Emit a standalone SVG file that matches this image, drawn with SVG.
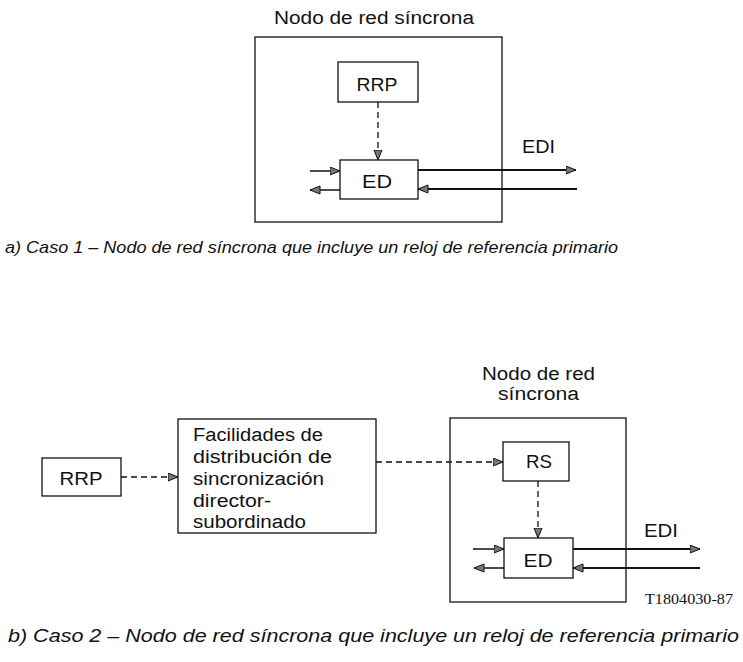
<svg xmlns="http://www.w3.org/2000/svg" width="743" height="662" viewBox="0 0 743 662">
<style>
.bg{fill:#fff}
.box{fill:none;stroke:#111;stroke-width:1.3}
.t{font-family:"Liberation Sans",Arial,sans-serif;font-size:18px;fill:#111}
.cap{font-family:"Liberation Sans",Arial,sans-serif;font-style:italic;fill:#111}
.ser{font-family:"Liberation Serif","Times New Roman",serif;font-size:15px;fill:#111}
.dash{fill:none;stroke:#111;stroke-width:1.3;stroke-dasharray:6 4}
.thin{fill:none;stroke:#111;stroke-width:1.5}
.thick{fill:none;stroke:#111;stroke-width:2.2}
</style>
<defs>
<marker id="ah" markerUnits="userSpaceOnUse" markerWidth="12" markerHeight="10" refX="10.5" refY="4.5" orient="auto">
<path d="M0.5,0.5 L10.5,4.5 L0.5,8.5 z" fill="#777" stroke="#111" stroke-width="1"/>
</marker>
</defs>
<rect class="bg" x="0" y="0" width="743" height="662"/>

<!-- Part a -->
<g id="a-node">
<rect class="box" x="255" y="37" width="247" height="185"/>
<text class="t" x="274" y="24" textLength="200" lengthAdjust="spacingAndGlyphs">Nodo de red síncrona</text>
</g>
<g id="a-rrp">
<rect class="box" x="338" y="62" width="80" height="40"/>
<text class="t" x="377" y="91" text-anchor="middle" textLength="41" lengthAdjust="spacingAndGlyphs">RRP</text>
</g>
<g id="a-ed">
<rect class="box" x="340" y="160" width="78" height="39"/>
<text class="t" x="377" y="188" text-anchor="middle" textLength="30" lengthAdjust="spacingAndGlyphs">ED</text>
</g>
<g id="a-edi-label">
<text class="t" x="522" y="153" textLength="33" lengthAdjust="spacingAndGlyphs">EDI</text>
</g>

<!-- Part b -->
<g id="b-rrp">
<rect class="box" x="42" y="458" width="79" height="38"/>
<text class="t" x="81" y="485" text-anchor="middle" textLength="43" lengthAdjust="spacingAndGlyphs">RRP</text>
</g>
<g id="b-facilidades">
<rect class="box" x="178" y="419" width="198" height="114"/>
<text class="t" x="193" y="441" textLength="130" lengthAdjust="spacingAndGlyphs">Facilidades de</text>
<text class="t" x="193" y="463" textLength="139" lengthAdjust="spacingAndGlyphs">distribución de</text>
<text class="t" x="193" y="485" textLength="131" lengthAdjust="spacingAndGlyphs">sincronización</text>
<text class="t" x="193" y="507" textLength="78" lengthAdjust="spacingAndGlyphs">director-</text>
<text class="t" x="193" y="528" textLength="113" lengthAdjust="spacingAndGlyphs">subordinado</text>
</g>
<g id="b-node">
<rect class="box" x="450" y="418" width="176" height="184"/>
<text class="t" x="482" y="380" textLength="113" lengthAdjust="spacingAndGlyphs">Nodo de red</text>
<text class="t" x="498" y="400" textLength="81" lengthAdjust="spacingAndGlyphs">síncrona</text>
</g>
<g id="b-rs">
<rect class="box" x="503" y="442" width="66" height="39"/>
<text class="t" x="539" y="468" text-anchor="middle" textLength="26" lengthAdjust="spacingAndGlyphs">RS</text>
</g>
<g id="b-ed">
<rect class="box" x="504" y="538" width="69" height="40"/>
<text class="t" x="538" y="567" text-anchor="middle" textLength="29" lengthAdjust="spacingAndGlyphs">ED</text>
</g>
<g id="b-edi-label">
<text class="t" x="644" y="537" textLength="34" lengthAdjust="spacingAndGlyphs">EDI</text>
</g>
<g id="b-ref">
<text class="ser" x="645" y="604" textLength="88" lengthAdjust="spacingAndGlyphs">T1804030-87</text>
</g>

<!-- Captions -->
<g id="captions">
<text class="cap" x="5" y="253" font-size="17" textLength="613" lengthAdjust="spacingAndGlyphs">a) Caso 1 – Nodo de red síncrona que incluye un reloj de referencia primario</text>
<text class="cap" x="8" y="642" font-size="18" textLength="731" lengthAdjust="spacingAndGlyphs">b) Caso 2 – Nodo de red síncrona que incluye un reloj de referencia primario</text>
</g>

<!-- Connectors -->
<g id="connectors">
<line class="dash" x1="378" y1="102" x2="378" y2="160" marker-end="url(#ah)"/>
<line class="thin" x1="310" y1="171" x2="340" y2="171" marker-end="url(#ah)"/>
<line class="thin" x1="340" y1="190" x2="310" y2="190" marker-end="url(#ah)"/>
<line class="thick" x1="418" y1="170" x2="576" y2="170" marker-end="url(#ah)"/>
<line class="thick" x1="577" y1="189" x2="418" y2="189" marker-end="url(#ah)"/>

<line class="dash" x1="121" y1="477" x2="178" y2="477" marker-end="url(#ah)"/>
<line class="dash" x1="376" y1="462" x2="503" y2="462" marker-end="url(#ah)"/>
<line class="dash" x1="538" y1="481" x2="538" y2="538" marker-end="url(#ah)"/>
<line class="thin" x1="473" y1="549" x2="504" y2="549" marker-end="url(#ah)"/>
<line class="thin" x1="504" y1="568" x2="474" y2="568" marker-end="url(#ah)"/>
<line class="thick" x1="573" y1="549" x2="700" y2="549" marker-end="url(#ah)"/>
<line class="thick" x1="700" y1="568" x2="573" y2="568" marker-end="url(#ah)"/>
</g>
</svg>
